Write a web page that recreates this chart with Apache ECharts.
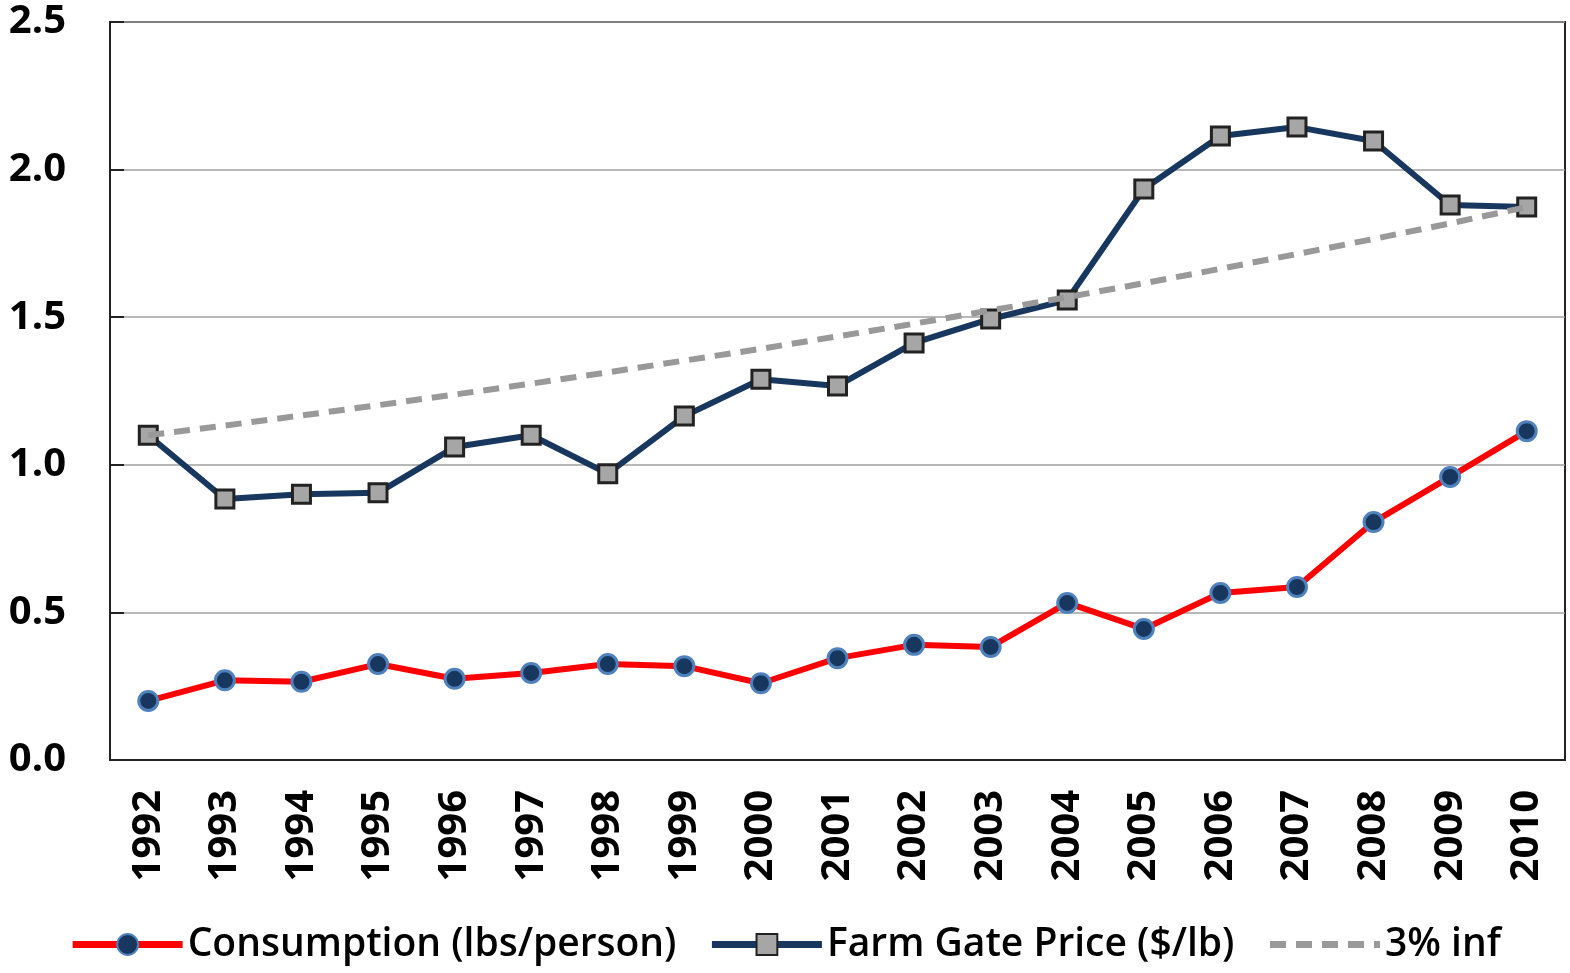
<!DOCTYPE html>
<html><head><meta charset="utf-8">
<script src="https://cdn.jsdelivr.net/npm/echarts@6/dist/echarts.min.js"></script>
<style>html,body{margin:0;padding:0;background:#fff}#c{width:1570px;height:973px}</style>
</head><body><div id="c"></div>
<script>
const years = ['1992','1993','1994','1995','1996','1997','1998','1999','2000','2001','2002','2003','2004','2005','2006','2007','2008','2009','2010'];
const consumption = [0.20,0.27,0.265,0.325,0.275,0.295,0.325,0.318,0.26,0.345,0.39,0.383,0.532,0.444,0.566,0.586,0.806,0.959,1.114];
const farmGatePrice = [1.10,0.884,0.90,0.905,1.06,1.10,0.97,1.165,1.29,1.267,1.413,1.494,1.558,1.934,2.114,2.144,2.097,1.88,1.873];
const inflation3 = [1.10,1.133,1.167,1.202,1.238,1.275,1.313,1.353,1.393,1.435,1.478,1.523,1.568,1.615,1.664,1.714,1.765,1.818,1.873];
const yTicks = [0,0.5,1.0,1.5,2.0,2.5];

const font = '"Open Sans", "Noto Sans", sans-serif';
const chart = echarts.init(document.getElementById('c'), null, {renderer:'canvas'});
chart.setOption({
  animation:false,
  backgroundColor:'#fff',
  grid:{left:110,right:5,top:22,bottom:213,show:true,borderColor:'#222',borderWidth:2,containLabel:false},
  legend:{
    top:920, left:'center', itemWidth:110, itemHeight:26, itemGap:32,
    lineStyle:{width:7},
    textStyle:{fontFamily:font,fontSize:39,fontWeight:600,color:'#000'},
    data:['Consumption (lbs/person)','Farm Gate Price ($/lb)',
      {name:'3% inf', itemStyle:{color:'rgba(0,0,0,0)',borderWidth:0}}]
  },
  xAxis:{
    type:'category', data:years, boundaryGap:true,
    axisLine:{lineStyle:{color:'#222',width:2}},
    axisTick:{inside:true,length:16,lineStyle:{color:'#222',width:2}},
    axisLabel:{rotate:90,fontFamily:font,fontSize:40,fontWeight:700,color:'#000',margin:30}
  },
  yAxis:{
    type:'value', min:0, max:2.5, interval:0.5,
    axisLine:{show:true,lineStyle:{color:'#222',width:2}},
    axisTick:{show:true,inside:true,length:14,lineStyle:{color:'#222',width:2}},
    splitLine:{lineStyle:{color:'#a0a0a0',width:1.5}},
    axisLabel:{fontFamily:font,fontSize:40,fontWeight:700,color:'#000',margin:44,
      formatter:v=>yTicks.includes(v)?v.toFixed(1):''}
  },
  series:[
    {name:'Consumption (lbs/person)',type:'line',data:consumption,symbol:'circle',symbolSize:19,
      lineStyle:{color:'#ff0000',width:6},
      itemStyle:{color:'#17375e',borderColor:'#4f81bd',borderWidth:3},z:2},
    {name:'Farm Gate Price ($/lb)',type:'line',data:farmGatePrice,symbol:'rect',symbolSize:18,
      lineStyle:{color:'#17375e',width:6},
      itemStyle:{color:'#a6a6a6',borderColor:'#222',borderWidth:3},z:3},
    {name:'3% inf',type:'line',data:inflation3,symbol:'none',
      lineStyle:{color:'#999999',width:6,type:[16,10]},
      itemStyle:{color:'#999999'},z:4}
  ]
});
</script></body></html>
